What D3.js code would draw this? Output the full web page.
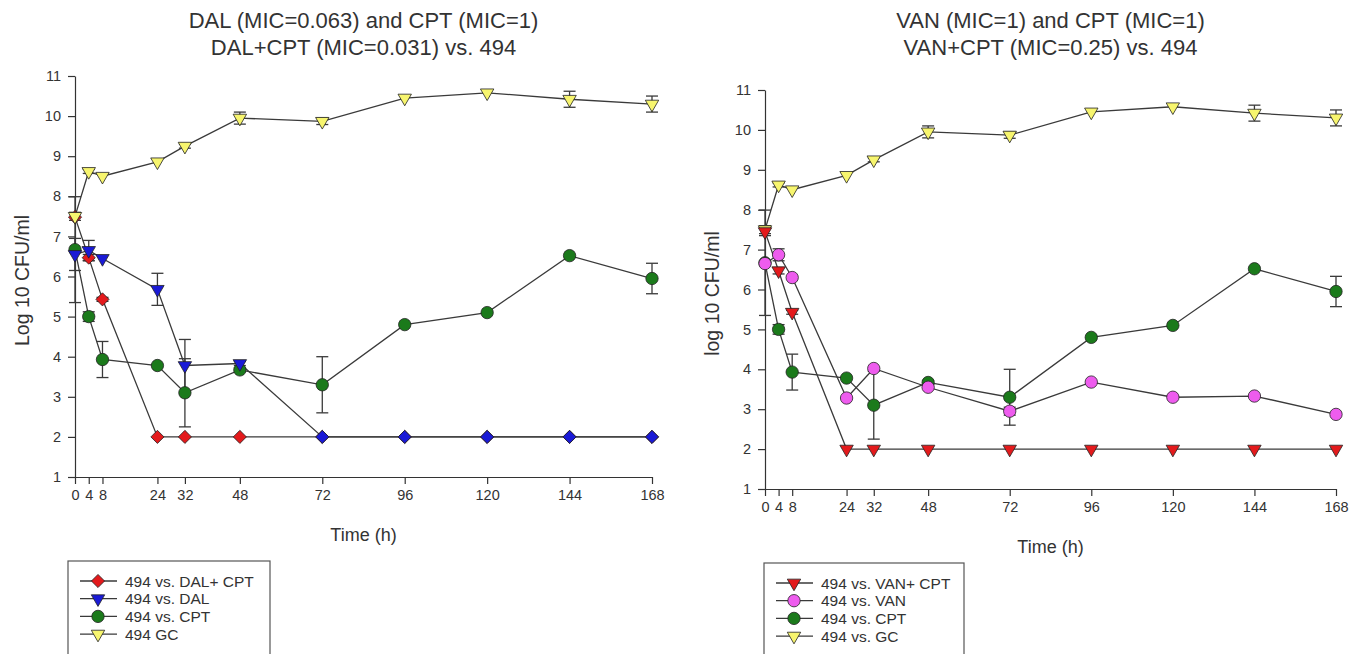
<!DOCTYPE html>
<html>
<head>
<meta charset="utf-8">
<script src="https://cdn.jsdelivr.net/npm/d3@7"></script>
<style>
  body { margin: 0; background: #fff; }
  text { font-family: Arial, "Liberation Sans", sans-serif; fill: #333; }
</style>
</head>
<body>
<div id="chart"></div>
<script>
// sampling times (h)
var times = [0, 4, 8, 24, 32, 48, 72, 96, 120, 144, 168];
var yTicks = [1, 2, 3, 4, 5, 6, 7, 8, 9, 10, 11];

// growth control (same in both panels)
var gc    = [7.5, 8.62, 8.5, 8.86, 9.25, 9.95, 9.87, 10.45, 10.58, 10.42, 10.3];
var gcErr = [0.1, 0.05, 0, 0, 0.05, 0.15, 0.08, 0, 0, 0.2, 0.2];

// CPT alone (same in both panels)
var cpt    = [6.67, 5.0, 3.93, 3.78, 3.1, 3.67, 3.3, 4.8, 5.1, 6.52, 5.95];
var cptErr = [1.32, 0.12, 0.45, 0, 0.85, 0.05, 0.7, 0, 0, 0, 0.38];

// left panel
var dalCpt    = [7.48, 6.47, 5.43, 2, 2, 2, 2, 2, 2, 2, 2];
var dalCptErr = [0, 0.08, 0.05, 0, 0, 0, 0, 0, 0, 0, 0];
var dal       = [6.55, 6.65, 6.45, 5.68, 3.78, 3.83, 2, 2, 2, 2, 2];
var dalErr    = [0.4, 0.25, 0, 0.4, 0.65, 0.05, 0, 0, 0, 0, 0];

// right panel
var vanCpt    = [7.45, 6.47, 5.43, 2, 2, 2, 2, 2, 2, 2, 2];
var vanCptErr = [0.1, 0.08, 0.05, 0, 0, 0, 0, 0, 0, 0, 0];
var van       = [6.65, 6.87, 6.3, 3.28, 4.02, 3.55, 2.95, 3.68, 3.3, 3.33, 2.87];
var vanErr    = [0, 0.15, 0, 0, 0, 0, 0.1, 0, 0, 0, 0];

var width = 1365, height = 654;

var svg = d3.select("#chart")
    .append("svg")
    .attr("width", width)
    .attr("height", height);

var RED = "#e31a1c", BLUE = "#1a1ad6", GREEN = "#1b7a1b",
    YELLOW = "#f7f56e", PINK = "#ee5cee";

function markerPath(shape) {
    if (shape == "diamond") return d3.symbol(d3.symbolDiamond2 || d3.symbolDiamond, 110)();
    if (shape == "circle") return d3.symbol(d3.symbolCircle, 120)();
    return d3.symbol(d3.symbolTriangle, 78)();
}

function drawPanel(p) {
    var x = d3.scaleLinear().domain([0, 168]).range([p.x0, p.x1]);
    var y = d3.scaleLinear().domain([1, 11]).range([p.y0, p.y1]);
    var g = svg.append("g");

    // axes
    g.append("g")
        .attr("transform", "translate(0," + p.y0 + ")")
        .call(d3.axisBottom(x).tickValues(times).tickSize(7).tickSizeOuter(0).tickPadding(6))
        .call(ax => ax.selectAll("text").style("font-size", "14.5px"));
    g.append("g")
        .attr("transform", "translate(" + p.x0 + ",0)")
        .call(d3.axisLeft(y).tickValues(yTicks).tickSize(7).tickSizeOuter(0).tickPadding(7))
        .call(ax => ax.selectAll("text").style("font-size", "14.5px"));
    g.selectAll(".domain, .tick line").attr("stroke", "#333").attr("stroke-width", 1.2);

    // titles
    var cx = (p.x0 + p.x1) / 2;
    g.append("text").attr("x", cx).attr("y", 28)
        .attr("text-anchor", "middle").style("font-size", "22px").text(p.title1);
    g.append("text").attr("x", cx).attr("y", 55)
        .attr("text-anchor", "middle").style("font-size", "22px").text(p.title2);
    g.append("text").attr("x", cx).attr("y", p.y0 + 64)
        .attr("text-anchor", "middle").style("font-size", "18px").text("Time (h)");
    g.append("text")
        .attr("transform", "translate(" + (p.x0 - 46) + "," + ((p.y0 + p.y1) / 2 + 4) + ") rotate(-90)")
        .attr("text-anchor", "middle").style("font-size", "19.5px").text(p.ylabel);

    var line = d3.line().x(d => x(d.t)).y(d => y(d.v));

    p.series.forEach(function(s) {
        var pts = times.map((t, i) => ({t: t, v: s.values[i], e: s.err[i], i: i}));
        g.append("path").datum(pts).attr("d", line)
            .attr("fill", "none").attr("stroke", "#3a3a3a").attr("stroke-width", 1.3);

        var eb = g.append("g").selectAll("g").data(pts.filter(d => d.e > 0)).enter().append("g")
            .attr("stroke", "#3a3a3a").attr("stroke-width", 1.3);
        eb.append("line").attr("x1", d => x(d.t)).attr("x2", d => x(d.t))
            .attr("y1", d => y(d.v - d.e)).attr("y2", d => y(d.v + d.e));
        eb.append("line").attr("x1", d => x(d.t) - 6).attr("x2", d => x(d.t) + 6)
            .attr("y1", d => y(d.v - d.e)).attr("y2", d => y(d.v - d.e));
        eb.append("line").attr("x1", d => x(d.t) - 6).attr("x2", d => x(d.t) + 6)
            .attr("y1", d => y(d.v + d.e)).attr("y2", d => y(d.v + d.e));
    });

    p.series.forEach(function(s) {
        var pts = times.map((t, i) => ({t: t, v: s.values[i], i: i}));
        // where a series sits on top of the diamond series it is drawn as a diamond
        var isOver = d => s.overlap && s.overlap[d.i] == d.v;
        g.append("g").selectAll("path").data(pts).enter().append("path")
            .attr("d", d => markerPath(isOver(d) ? "diamond" : s.shape))
            .attr("transform", function(d) {
                var rot = (s.shape == "tri" && !isOver(d)) ? " rotate(180)" : "";
                return "translate(" + x(d.t) + "," + y(d.v) + ")" + rot;
            })
            .attr("fill", s.color).attr("stroke", "#222").attr("stroke-width", 0.8);
    });

    // legend
    var lg = g.append("g").attr("transform", "translate(" + p.legX + "," + p.legY + ")");
    lg.append("rect").attr("x", 0).attr("y", 0).attr("width", p.legW).attr("height", 110)
        .attr("fill", "none").attr("stroke", "#555").attr("stroke-width", 1.2);
    p.legend.forEach(function(s, i) {
        var yy = 20 + i * 17.7;
        lg.append("line").attr("x1", 12).attr("x2", 49).attr("y1", yy).attr("y2", yy)
            .attr("stroke", "#3a3a3a").attr("stroke-width", 1.3);
        lg.append("path").attr("d", markerPath(s.shape))
            .attr("transform", "translate(30," + yy + ")" + (s.shape == "tri" ? " rotate(180)" : ""))
            .attr("fill", s.color).attr("stroke", "#222").attr("stroke-width", 0.8);
        lg.append("text").attr("x", 57).attr("y", yy + 5.5).style("font-size", "15.5px").text(s.label);
    });
}

var sGC = {values: gc, err: gcErr, color: YELLOW, shape: "tri"};
var sCPT = {values: cpt, err: cptErr, color: GREEN, shape: "circle"};

drawPanel({
    x0: 75, x1: 652, y0: 477, y1: 76,
    title1: "DAL (MIC=0.063) and CPT (MIC=1)",
    title2: "DAL+CPT (MIC=0.031) vs. 494",
    ylabel: "Log 10 CFU/ml",
    series: [
        sCPT,
        {values: dalCpt, err: dalCptErr, color: RED, shape: "diamond"},
        {values: dal, err: dalErr, color: BLUE, shape: "tri", overlap: dalCpt},
        sGC
    ],
    legX: 68, legY: 561, legW: 202,
    legend: [
        {label: "494 vs. DAL+ CPT", color: RED, shape: "diamond"},
        {label: "494 vs. DAL", color: BLUE, shape: "tri"},
        {label: "494 vs. CPT", color: GREEN, shape: "circle"},
        {label: "494 GC", color: YELLOW, shape: "tri"}
    ]
});

drawPanel({
    x0: 765, x1: 1336, y0: 489, y1: 90,
    title1: "VAN (MIC=1) and CPT (MIC=1)",
    title2: "VAN+CPT (MIC=0.25) vs. 494",
    ylabel: "log 10 CFU/ml",
    series: [
        sCPT,
        {values: van, err: vanErr, color: PINK, shape: "circle"},
        sGC,
        {values: vanCpt, err: vanCptErr, color: RED, shape: "tri"}
    ],
    legX: 764, legY: 563, legW: 200,
    legend: [
        {label: "494 vs. VAN+ CPT", color: RED, shape: "tri"},
        {label: "494 vs. VAN", color: PINK, shape: "circle"},
        {label: "494 vs. CPT", color: GREEN, shape: "circle"},
        {label: "494 vs. GC", color: YELLOW, shape: "tri"}
    ]
});
</script>
</body>
</html>
